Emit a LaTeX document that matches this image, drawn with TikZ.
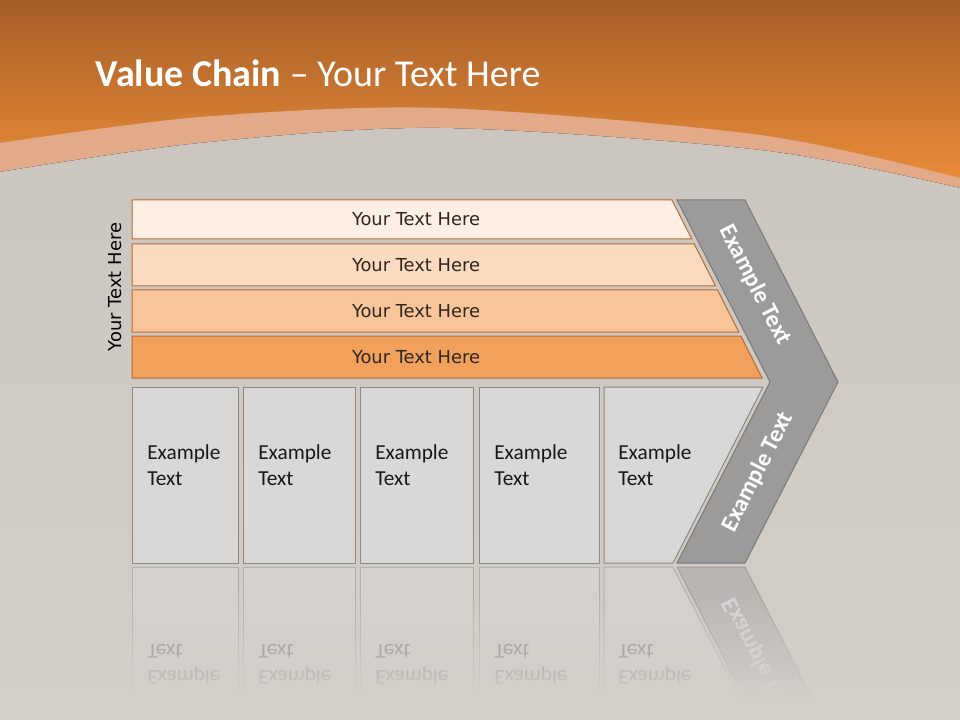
\documentclass[tikz,border=0pt]{standalone}
\usepackage{fontspec}
\setmainfont{Carlito}
\newfontfamily\barfont{DejaVu Sans}
\usepackage{xcolor}
\usepackage{tikz}
\usetikzlibrary{fadings}

\definecolor{orangeDark}{HTML}{A65F27}
\definecolor{orangeLight}{HTML}{F0903C}
\definecolor{bandPeach}{HTML}{E2AA88}
\definecolor{grayTop}{HTML}{CCC6C1}
\definecolor{grayBot}{HTML}{D4CEC9}
\definecolor{barOne}{HTML}{FDEFE3}
\definecolor{barTwo}{HTML}{FADBC0}
\definecolor{barThree}{HTML}{F8C59B}
\definecolor{barFour}{HTML}{F2A15C}
\definecolor{barEdge}{HTML}{B86A30}
\definecolor{textDark}{HTML}{2E2620}
\definecolor{boxFill}{HTML}{D8D8D8}
\definecolor{boxEdge}{HTML}{8A8784}
\definecolor{chevFill}{HTML}{9B9B9B}
\definecolor{chevEdge}{HTML}{7A7A7A}

\begin{document}
\begin{tikzpicture}[x=0.75pt, y=-0.75pt,
    bar/.style={draw=barEdge, line width=0.75pt},
    bartext/.style={font=\barfont\fontsize{13.4}{15}\selectfont, text=textDark},
    box/.style={draw=boxEdge, fill=boxFill, line width=0.75pt},
    boxtext/.style={anchor=west, align=left, inner sep=0pt, text=black!90,
        font=\fontsize{16}{19.5}\selectfont},
    chevron/.style={draw=chevEdge, fill=chevFill, line width=0.75pt},
    chevtext/.style={text=white, font=\bfseries\fontsize{18}{20}\selectfont}]
    \useasboundingbox (0,0) rectangle (960,720);

    % background
    \fill[top color=orangeDark, bottom color=orangeLight] (0,0) rectangle (960,200);
    \fill[bandPeach] plot[smooth] coordinates {(0,143) (200,117) (440,108) (760,135) (960,178)}
        -- (960,200) -- (0,200) -- cycle;
    \fill[top color=grayTop, bottom color=grayBot] plot[smooth] coordinates
        {(0,172) (200,143) (440,128) (760,150) (960,188)} -- (960,720) -- (0,720) -- cycle;

    \node[anchor=west, text=white, font=\fontsize{28.5}{34}\selectfont] (title) at (91,73)
        {\textbf{Value Chain} – Your Text Here};

    % bars
    \foreach \ytop/\ybot/\col [count=\i] in {200/239/barOne, 244/286/barTwo,
                                               290/332/barThree, 336/378/barFour}{
        \pgfmathsetmacro{\xtop}{672+0.506*(\ytop-200)}
        \pgfmathsetmacro{\xbot}{672+0.506*(\ybot-200)}
        \draw[bar, fill=\col] (132,\ytop) -- (\xtop,\ytop) -- (\xbot,\ybot) -- (132,\ybot) -- cycle;
        \node[bartext] (bar\i) at (416,{(\ytop+\ybot)/2}) {Your Text Here};
    }
    \node[bartext, text=black, rotate=90] (side) at (115,287) {Your Text Here};

    % chevron
    \draw[chevron] (677,200) -- (745,200) -- (838,382) -- (745,563) -- (677,563) -- (770,382) -- cycle;
    \node[chevtext, rotate=-63] (armtop) at (755,285) {Example Text};
    \node[chevtext, rotate=63] (armbot) at (758,472) {Example Text};

    % boxes
    \foreach \xl/\xr [count=\i] in {132/238, 243/355, 360/473, 479/599}{
        \draw[box] (\xl,387) rectangle (\xr,563);
        \node[boxtext] (box\i) at (\xl+15,465) {Example\\Text};
    }
    \draw[box] (604,387) -- (763,387) -- (673,563) -- (604,563) -- cycle;
    \node[boxtext] (box5) at (618,465) {Example\\Text};

    % reflection
    \begin{scope}
        \clip (0,565) rectangle (960,720);
        \begin{scope}[shift={(0,1130)}, yscale=-1, transform shape, opacity=0.45]
            \foreach \xl/\xr [count=\i] in {132/238, 243/355, 360/473, 479/599}{
                \draw[box] (\xl,387) rectangle (\xr,563);
                \node[boxtext] (mirbox\i) at (\xl+15,465) {Example\\Text};
            }
            \draw[box] (604,387) -- (763,387) -- (673,563) -- (604,563) -- cycle;
            \node[boxtext] (mirbox5) at (618,465) {Example\\Text};
            \draw[chevron] (677,200) -- (745,200) -- (838,382) -- (745,563) -- (677,563) -- (770,382) -- cycle;
            \node[chevtext, rotate=63] (mirarm) at (758,472) {Example Text};
        \end{scope}
        \fill[grayBot, path fading=north] (0,590) rectangle (960,700);
        \fill[grayBot] (0,699) rectangle (960,720);
    \end{scope}
\end{tikzpicture}
\end{document}
